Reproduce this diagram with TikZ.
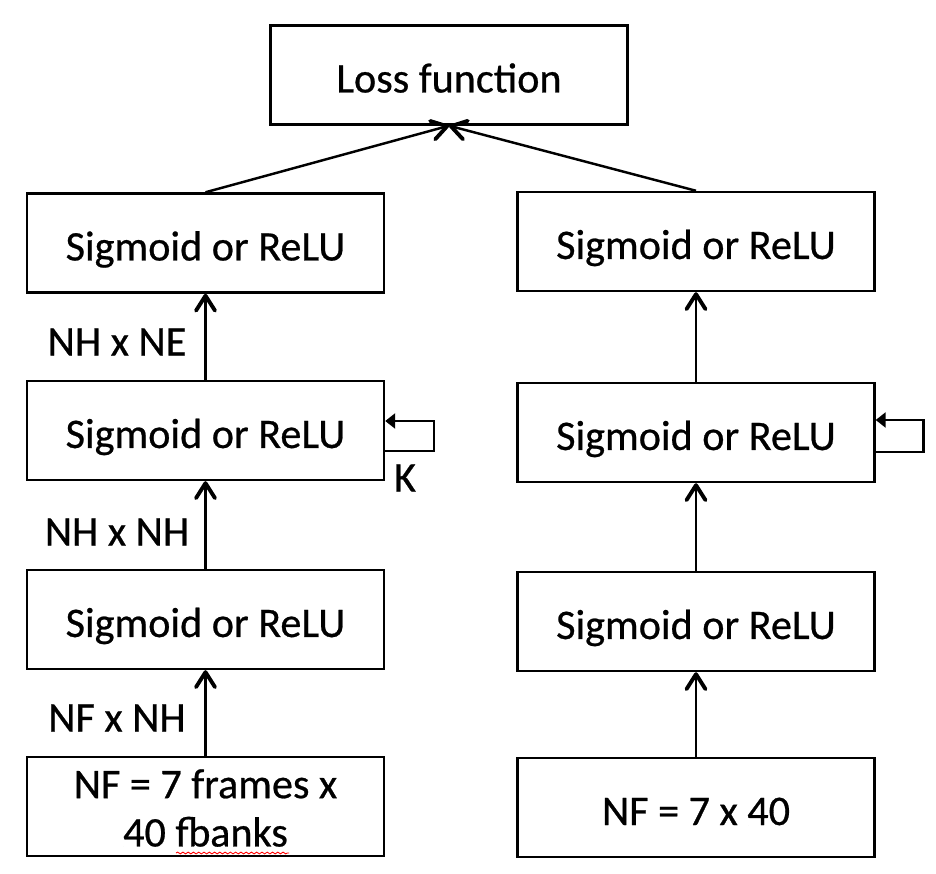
\documentclass[tikz,border=0pt]{standalone}
\usepackage{fontspec}
\setmainfont{Carlito}[FakeBold=0.6]
\newfontfamily\boxfont{Carlito}[FakeBold=0.6]
\usetikzlibrary{arrows.meta,decorations.pathmorphing}

\begin{document}
\begin{tikzpicture}[x=0.02cm, y=-0.02cm, line width=1.4pt,
		main/.style = {draw, rectangle, minimum width=7.14cm, minimum height=1.98cm, inner sep=0pt, font=\boxfont\fontsize{24}{27.5}\selectfont, align=center, text height=0.7cm, text depth=0cm},
		lbl/.style = {font=\boxfont\fontsize{24}{27.5}\selectfont},
		up/.style = {-{Straight Barb[length=0.3cm, width=0.38cm, line width=2.2pt, round]}},
		fb/.style = {-{Triangle[length=0.2cm, width=0.3cm]}}]

		\useasboundingbox (0,0) rectangle (936,874);

		\node[main] (loss) at (449,75) {Loss function};

		\node[main] (l4) at (205.5,243) {Sigmoid or ReLU};
		\node[main] (l3) at (205.5,430.5) {Sigmoid or ReLU};
		\node[main] (l2) at (205.5,619.5) {Sigmoid or ReLU};
		\node[main, text height=1.6cm] (l1) at (205.5,806.5) {NF = 7 frames x\\40 fbanks};

		\node[main] (r4) at (696,241.5) {Sigmoid or ReLU};
		\node[main] (r3) at (696,432.5) {Sigmoid or ReLU};
		\node[main] (r2) at (696,621.5) {Sigmoid or ReLU};
		\node[main] (r1) at (696,807.5) {NF = 7 x 40};

		\node[lbl] (w3) at (117,342) {NH x NE};
		\node[lbl] (w2) at (117,532) {NH x NH};
		\node[lbl] (w1) at (117,718) {NF x NH};
		\node[lbl] (k) at (405,478) {K};

		\draw[up] (l1) -- (l2);
		\draw[up] (l2) -- (l3);
		\draw[up] (l3) -- (l4);
		\draw[up] (l4.north) -- (loss.south);

		\draw[up] (r1) -- (r2);
		\draw[up] (r2) -- (r3);
		\draw[up] (r3) -- (r4);
		\draw[up] (r4.north) -- (loss.south);

		\draw[fb] ([yshift=-0.41cm]l3.east) -- ++(49,0) |- ([yshift=0.19cm]l3.east);
		\draw[fb] ([yshift=-0.39cm]r3.east) -- ++(48,0) |- ([yshift=0.25cm]r3.east);

		\coordinate (sq1) at (176,853);
		\coordinate (sq2) at (289,853);
		\draw[red, line width=0.5pt, decorate, decoration={snake, amplitude=0.5pt, segment length=3pt}] (sq1) -- (sq2);
	\end{tikzpicture}
\end{document}
